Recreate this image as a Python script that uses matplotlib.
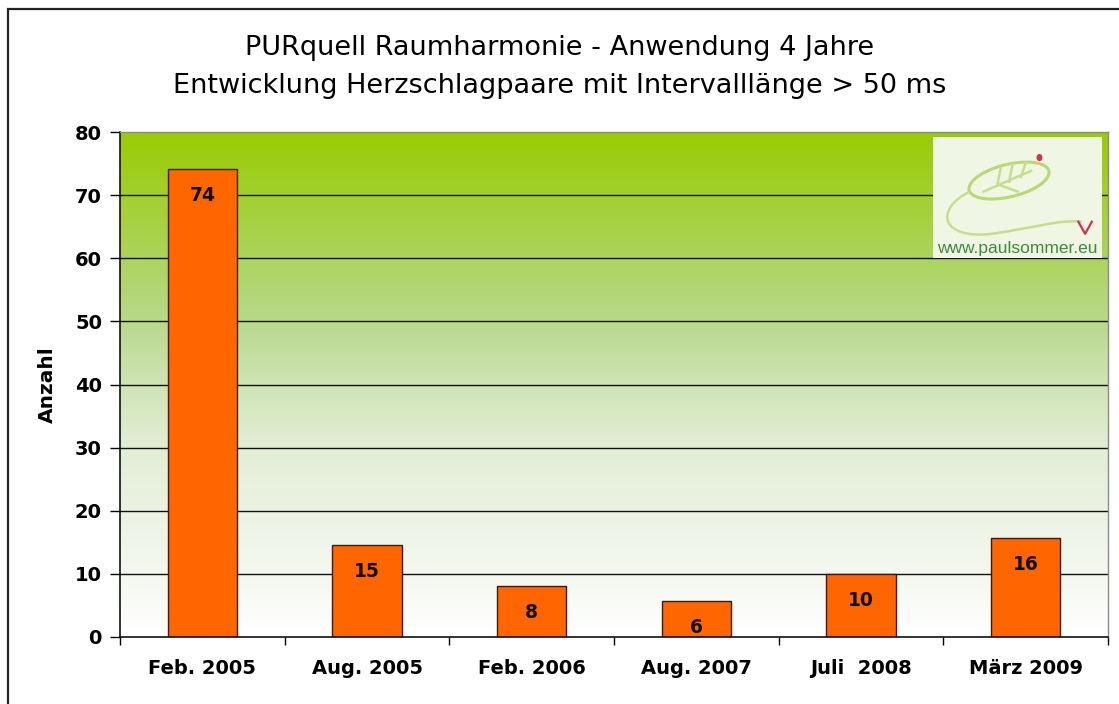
import numpy as np
import matplotlib
matplotlib.use("Agg")
import matplotlib.pyplot as plt
from matplotlib.colors import LinearSegmentedColormap
from matplotlib.patches import Rectangle, Ellipse, PathPatch
from matplotlib.path import Path

categories = ["Feb. 2005", "Aug. 2005", "Feb. 2006", "Aug. 2007", "Juli  2008", "März 2009"]
values = [74.2, 14.6, 8.1, 5.7, 10.0, 15.7]
labels = ["74", "15", "8", "6", "10", "16"]
yticks = [0, 10, 20, 30, 40, 50, 60, 70, 80]
title_lines = ["PURquell Raumharmonie - Anwendung 4 Jahre",
               "Entwicklung Herzschlagpaare mit Intervalllänge > 50 ms"]

plt.rcParams['font.family'] = ['DejaVu Sans']

W, H = 1119, 704
fig = plt.figure(figsize=(W / 100, H / 100), dpi=100)
fig.patch.set_facecolor("white")

# outer border (extends past right/bottom edges)
fig.patches.append(Rectangle((8 / W, -0.1), 1.2, (H - 9) / H + 0.1,
                             transform=fig.transFigure, fill=False,
                             edgecolor="#222222", lw=1.6))

L, R, T, B = 120, 1108, 132, 637
ax = fig.add_axes([L / W, 1 - B / H, (R - L) / W, (B - T) / H])

n = len(categories)
ax.set_xlim(-0.5, n - 0.5)
ax.set_ylim(0, 80)

# gradient background
cmap = LinearSegmentedColormap.from_list("bg", [
    (0.0, "#ffffff"), (0.125, "#f4f8f0"), (0.375, "#e2eed6"),
    (0.5, "#cfe4b4"), (0.625, "#b8d98c"), (0.8, "#a8d24a"), (1.0, "#99cc00")])
grad = np.linspace(0, 1, 256).reshape(-1, 1)
ax.imshow(grad, cmap=cmap, origin="lower", aspect="auto",
          extent=(-0.5, n - 0.5, 0, 80), zorder=0)

for yv in yticks[1:-1]:
    ax.axhline(yv, color="#111111", lw=1.0, zorder=1)

x = np.arange(n)
ax.bar(x, values, width=0.42, color="#ff6600", edgecolor="#3a1a08",
       linewidth=1.0, zorder=2)
for xi, v, lab in zip(x, values, labels):
    ax.annotate(lab, (xi, v), xytext=(0, -19), textcoords="offset points",
                ha="center", va="center", fontsize=13.5, fontweight="bold",
                color="#111111", zorder=3)

ax.set_yticks(yticks)
ax.set_yticklabels([str(t) for t in yticks], fontsize=14, fontweight="bold")
ax.tick_params(axis="y", direction="out", length=7, width=1, pad=6)
ax.set_xticks(x)
ax.set_xticklabels(categories, fontsize=14, fontweight="bold")
ax.tick_params(axis="x", which="major", length=0, pad=16)
ax.set_xticks(np.arange(-0.5, n), minor=True)
ax.tick_params(axis="x", which="minor", direction="out", length=6, width=1)

for s in ["left", "bottom"]:
    ax.spines[s].set_color("#111111")
    ax.spines[s].set_linewidth(1.2)
for s in ["top", "right"]:
    ax.spines[s].set_color("#8a8a8a")
    ax.spines[s].set_linewidth(1.0)

fig.text(47 / W, 1 - 385 / H, "Anzahl", rotation=90, ha="center", va="center",
         fontsize=14.5, fontweight="bold")

fig.text(0.5, 1 - 48 / H, title_lines[0], ha="center", va="center", fontsize=19.5)
fig.text(0.5, 1 - 86 / H, title_lines[1], ha="center", va="center", fontsize=19.5)

# logo
lx0, lx1, ly0, ly1 = 933, 1102, 137, 258
lg = fig.add_axes([lx0 / W, 1 - ly1 / H, (lx1 - lx0) / W, (ly1 - ly0) / H])
lg.set_xlim(0, 1)
lg.set_ylim(0, 1)
lg.axis("off")
lg.add_patch(Rectangle((0, 0), 1, 1, facecolor="#eff7e4", edgecolor="none"))
lg.add_patch(Ellipse((0.45, 0.64), 0.5, 0.26, angle=22, facecolor="none",
                     edgecolor="#b9d774", lw=2.2))
for (a, b), (c, d) in [((0.3, 0.55), (0.58, 0.72)), ((0.38, 0.6), (0.4, 0.74)),
                       ((0.45, 0.63), (0.47, 0.77)), ((0.52, 0.67), (0.55, 0.79)),
                       ((0.4, 0.6), (0.5, 0.55))]:
    lg.plot([a, c], [b, d], color="#c6de8c", lw=1.8)
verts = [(0.22, 0.55), (0.0, 0.4), (0.05, 0.15), (0.35, 0.2), (0.6, 0.25), (0.75, 0.32), (0.88, 0.3)]
codes = [Path.MOVETO, Path.CURVE4, Path.CURVE4, Path.CURVE4, Path.CURVE4, Path.CURVE4, Path.CURVE4]
lg.add_patch(PathPatch(Path(verts, codes), facecolor="none", edgecolor="#c6de8c", lw=1.8))
lg.add_patch(Ellipse((0.63, 0.83), 0.035, 0.06, facecolor="#d9304a", edgecolor="none"))
lg.plot([0.86, 0.9, 0.94], [0.3, 0.2, 0.3], color="#d9304a", lw=1.6)
lg.text(0.5, 0.075, "www.paulsommer.eu", ha="center", va="center",
        fontsize=12.5, color="#3e8a3a", family="Liberation Sans")

fig.savefig("out.png", dpi=100)
